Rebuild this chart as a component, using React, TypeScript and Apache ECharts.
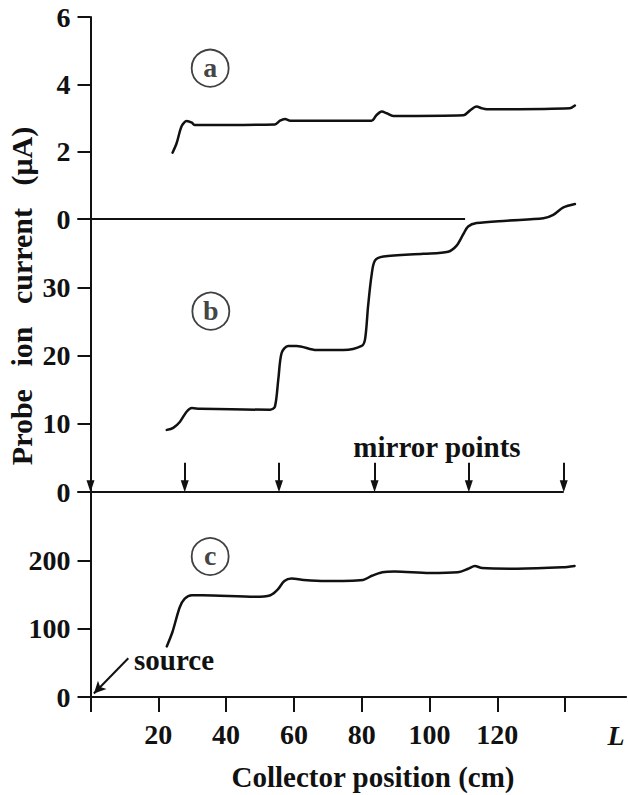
import React, { useEffect, useRef } from "react";
import * as echarts from "echarts";

// ---- data ----
const xTicks = [0, 20, 40, 60, 80, 100, 120, 140];
const xLabelShown = [20, 40, 60, 80, 100, 120];

// panel (a): probe current, µA
const cmA = [24.2, 25.4, 26.9, 28.4, 29.9, 30.8, 54.4, 55.9, 57.4, 58.9, 59.8, 82.9, 84.4, 85.9, 87.4, 89.3, 110, 111.9, 113.9, 115.4, 116.9, 141.4, 142.9];
const valA = [1.97, 2.25, 2.76, 2.91, 2.86, 2.79, 2.81, 2.92, 2.97, 2.92, 2.92, 2.92, 3.09, 3.19, 3.14, 3.06, 3.08, 3.22, 3.34, 3.29, 3.26, 3.29, 3.37];
const zeroA_cm = [0, 110.5];
const zeroA_val = [0, 0];

// panel (b)
const cmB = [22.5, 24.4, 26.4, 28.4, 29.9, 32.3, 53, 54.4, 55.4, 56.4, 58.3, 60.8, 66.7, 74.6, 80, 81, 81.9, 82.9, 83.9, 86.4, 98.2, 105.5, 108, 110, 111.4, 113.9, 122.8, 133.6, 136.5, 139.5, 142.9];
const valB = [9.1, 9.4, 10.3, 11.8, 12.3, 12.2, 12.06, 12.5, 16.5, 20.4, 21.4, 21.4, 20.8, 20.8, 21.4, 22.4, 27.3, 31.7, 33.9, 34.5, 34.9, 35.2, 36.1, 37.8, 38.9, 39.4, 39.75, 40.1, 40.6, 41.7, 42.2];
const baseB_cm = [0, 139.6];
const baseB_val = [0, 0];
const mirrorPoints = [0, 27.8, 55.6, 83.8, 111.6, 139.6];

// panel (c)
const cmC = [22.5, 24.2, 26.3, 27.8, 29.9, 33, 48.5, 53.1, 55.2, 57.2, 59.3, 62.9, 69.1, 80.4, 83, 86.1, 89.7, 100, 108.3, 111.4, 113.4, 115.5, 125.8, 139.2, 142.8];
const valC = [74, 95.5, 131, 144, 149, 149, 146.7, 149, 157, 169.7, 173.3, 171.3, 169.7, 171.3, 177.4, 182.6, 183.6, 181.5, 182.6, 187.7, 191.8, 188.7, 187.7, 189.7, 191.8];

// panel tags
const tagText = ["a", "b", "c"];
const tagX = [35.3, 35.5, 35.3];
const tagY = [4.48, 26.5, 205.6];

// source arrow (panel c coords)
const sourceArrowFrom = [11.15, 56.7];
const sourceArrowTo = [1.0, 5.1];

const FONT = "'Liberation Serif', serif";
const INK = "#111";
const W = "bold";

function pairs(xs: number[], ys: number[]) {
  return xs.map((x, i) => [x, ys[i]]);
}

export default function App() {
  const ref = useRef<HTMLDivElement>(null);
  useEffect(() => {
    if (!ref.current) return;
    const chart = echarts.init(ref.current, undefined, { renderer: "svg" });
    const left = 90.5;
    const width = 535.6;
    const grids = [
      { left, width, top: 17, height: 202 },
      { left, width, top: 219, height: 273 },
      { left, width, top: 492, height: 205 },
    ];
    const axisLine = { show: true, lineStyle: { color: INK, width: 2 } };
    const yCommon = (min: number, max: number, interval: number, hideTop: boolean) => ({
      type: "value",
      min,
      max,
      interval,
      axisLine,
      axisTick: { show: true, inside: false, length: 13, lineStyle: { color: INK, width: 2 } },
      splitLine: { show: false },
      axisLabel: {
        margin: 20,
        color: INK,
        fontFamily: FONT,
        fontWeight: W,
        fontSize: 28,
        formatter: (v: number) => (hideTop && v === max ? "" : String(v)),
      },
    });
    const xHidden = (i: number) => ({
      type: "value",
      gridIndex: i,
      min: 0,
      max: 158,
      show: false,
    });
    const lineSeries = (xi: number, data: number[][], extra: any = {}) => ({
      type: "line",
      xAxisIndex: xi,
      yAxisIndex: xi,
      data,
      showSymbol: false,
      symbol: "none",
      lineStyle: { color: INK, width: 2.5, join: "round", cap: "round" },
      silent: true,
      ...extra,
    });
    const tagSeries = (i: number) => ({
      type: "scatter",
      xAxisIndex: i,
      yAxisIndex: i,
      data: [[tagX[i], tagY[i]]],
      symbol: "circle",
      symbolSize: 37,
      itemStyle: { color: "rgba(255,255,255,0)", borderColor: INK, borderWidth: 1.8 },
      label: {
        show: true,
        position: "inside",
        formatter: tagText[i],
        color: INK,
        fontFamily: FONT,
        fontWeight: W,
        fontSize: 28,
        offset: [0, -1],
      },
      silent: true,
    });
    const txt = (text: string, x: number, y: number, size: number, align = "center", extra: any = {}) => ({
      type: "text",
      x,
      y,
      ...extra,
      style: {
        text,
        fontFamily: FONT,
        fontWeight: W,
        fontSize: size,
        fill: INK,
        align,
        verticalAlign: "middle",
        ...(extra.style || {}),
      },
    });

    chart.setOption({
      animation: false,
      textStyle: { fontFamily: FONT },
      grid: grids,
      xAxis: [
        xHidden(0),
        xHidden(1),
        {
          type: "value",
          gridIndex: 2,
          min: 0,
          max: 158,
          interval: 20,
          axisLine,
          axisTick: {
            show: true,
            length: 15,
            lineStyle: { color: INK, width: 2 },
            customValues: xTicks,
          },
          splitLine: { show: false },
          axisLabel: {
            margin: 23,
            color: INK,
            fontFamily: FONT,
            fontWeight: W,
            fontSize: 28,
            customValues: xLabelShown,
            formatter: (v: number) => (xLabelShown.indexOf(v) >= 0 ? String(v) : ""),
          },
        },
      ],
      yAxis: [
        { gridIndex: 0, ...yCommon(0, 6, 2, false) },
        { gridIndex: 1, ...yCommon(0, 40, 10, true) },
        { gridIndex: 2, ...yCommon(0, 300, 100, true) },
      ],
      series: [
        lineSeries(0, pairs(cmA, valA), { smooth: 0.3 }),
        lineSeries(0, pairs(zeroA_cm, zeroA_val), { lineStyle: { color: INK, width: 2 } }),
        lineSeries(1, pairs(cmB, valB), { smooth: 0.3, clip: false }),
        lineSeries(1, pairs(baseB_cm, baseB_val), {
          lineStyle: { color: INK, width: 2 },
          markLine: {
            silent: true,
            symbol: ["none", "triangle"],
            symbolSize: [8, 12],
            label: { show: false },
            lineStyle: { color: INK, width: 2, type: "solid" },
            data: mirrorPoints.map((m, i) => [
              { coord: [m, i === 0 ? 1.9 : 4.3] },
              { coord: [m, 0.85] },
            ]),
          },
        }),
        lineSeries(2, pairs(cmC, valC), {
          smooth: 0.3,
          markLine: {
            silent: true,
            symbol: ["none", "arrow"],
            symbolSize: [9, 12],
            label: { show: false },
            lineStyle: { color: INK, width: 2, type: "solid" },
            data: [[{ coord: sourceArrowFrom }, { coord: sourceArrowTo }]],
          },
        }),
        tagSeries(0),
        tagSeries(1),
        tagSeries(2),
      ],
      graphic: [
        txt("Probe   ion   current   (\u03bcA)", 21, 296, 30, "center", { rotation: Math.PI / 2 }),
        txt("mirror points", 437, 447, 29),
        txt("source", 134, 660, 29, "left"),
        txt("L", 616, 735, 28, "center", { style: { fontStyle: "italic" } }),
        txt("Collector position (cm)", 373, 777, 29),
      ],
    });
    return () => chart.dispose();
  }, []);
  return (
    <div
      ref={ref}
      style={{ position: "absolute", left: 0, top: 0, width: 628, height: 795, background: "#fff" }}
    />
  );
}
